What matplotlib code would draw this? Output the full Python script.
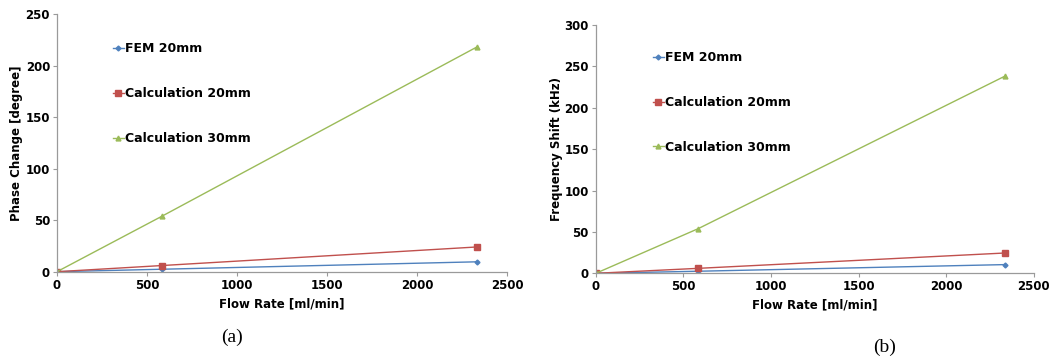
import matplotlib.pyplot as plt

# flow rates (ml/min) and results for both panels
flow = [0, 585, 2333]
phase_fem20 = [0, 2.4, 9.6]
phase_calc20 = [0, 6, 24]
phase_calc30 = [0, 54, 218]
freq_fem20 = [0, 2.5, 10.5]
freq_calc20 = [0, 6, 24.5]
freq_calc30 = [0, 54, 238]

labels = ['FEM 20mm', 'Calculation 20mm', 'Calculation 30mm']
colors = ['#4f81bd', '#c0504d', '#9bbb59']
markers = ['D', 's', '^']
msizes = [2.5, 4, 3.5]

fig = plt.figure(figsize=(10.49, 3.63), dpi=100)
ax1 = fig.add_axes([0.0543, 0.2515, 0.429, 0.71])
ax2 = fig.add_axes([0.568, 0.2471, 0.4175, 0.684])


def draw(ax, series, ylim, yticks, ylabel, lab_x, leg_pos):
    for ys, lab, c, m, ms in zip(series, labels, colors, markers, msizes):
        ax.plot(flow, ys, color=c, marker=m, markersize=ms, linewidth=1.0, label=lab)
    ax.set_xlim(0, 2500)
    ax.set_ylim(*ylim)
    ax.set_xticks([0, 500, 1000, 1500, 2000, 2500])
    ax.set_yticks(yticks)
    for s in ['top', 'right']:
        ax.spines[s].set_visible(False)
    for s in ['left', 'bottom']:
        ax.spines[s].set_color('#9a9a9a')
        ax.spines[s].set_linewidth(0.9)
    ax.tick_params(color='#9a9a9a', length=3, width=0.8, labelsize=8.5, pad=2)
    for t in ax.get_xticklabels() + ax.get_yticklabels():
        t.set_fontweight('bold')
    ax.set_xlabel('Flow Rate [ml/min]', fontsize=8.5, fontweight='bold', labelpad=4)
    ax.set_ylabel(ylabel, fontsize=8.5, fontweight='bold')
    ax.yaxis.set_label_coords(lab_x, 0.5)
    ax.legend(loc='upper left', bbox_to_anchor=leg_pos, frameon=False,
              handlelength=0.9, handletextpad=0.1, labelspacing=2.55,
              prop={'size': 9, 'weight': 'bold'}, borderaxespad=0)


draw(ax1, [phase_fem20, phase_calc20, phase_calc30], (0, 250),
     [0, 50, 100, 150, 200, 250], 'Phase Change [degree]', -0.075, (0.113, 0.91))
draw(ax2, [freq_fem20, freq_calc20, freq_calc30], (0, 300),
     [0, 50, 100, 150, 200, 250, 300], 'Frequency Shift (kHz)', -0.075, (0.118, 0.915))

fig.text(0.221, 0.07, '(a)', fontsize=14, family='Liberation Serif', ha='center', va='center')
fig.text(0.843, 0.044, '(b)', fontsize=14, family='Liberation Serif', ha='center', va='center')

fig.savefig('out.png', dpi=100)
